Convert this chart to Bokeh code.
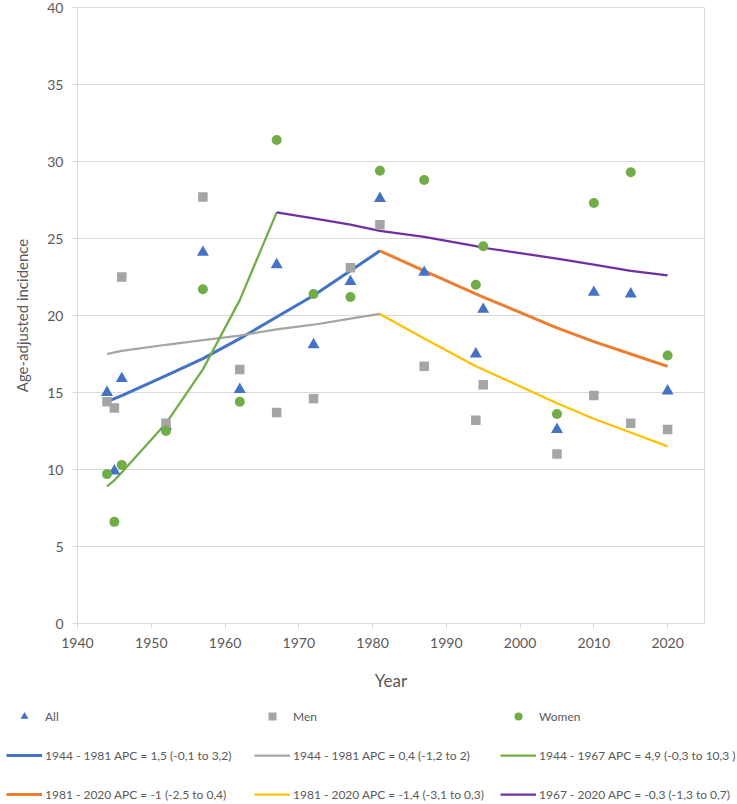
from bokeh.plotting import figure
from bokeh.layouts import column
from bokeh.models import Range1d, FixedTicker, Legend, LegendItem
from bokeh.embed import file_html
from bokeh.resources import INLINE

# ---- data ----
years = [1944, 1945, 1946, 1952, 1957, 1962, 1967, 1972, 1977, 1981,
         1987, 1994, 1995, 2005, 2010, 2015, 2020]
all_vals = [15.0, 9.9, 15.9, 12.8, 24.1, 15.2, 23.3, 18.1, 22.2, 27.6,
            22.8, 17.5, 20.4, 12.6, 21.5, 21.4, 15.1]
men_vals = [14.4, 14.0, 22.5, 13.0, 27.7, 16.5, 13.7, 14.6, 23.1, 25.9,
            16.7, 13.2, 15.5, 11.0, 14.8, 13.0, 12.6]
women_vals = [9.7, 6.6, 10.3, 12.5, 21.7, 14.4, 31.4, 21.4, 21.2, 29.4,
              28.8, 22.0, 24.5, 13.6, 27.3, 29.3, 17.4]

seg1_years = [1944, 1945, 1946, 1952, 1957, 1962, 1967, 1972, 1977, 1981]
all_fit1 = [14.4, 14.6, 14.8, 16.1, 17.2, 18.5, 19.9, 21.3, 22.9, 24.2]
men_fit1 = [17.5, 17.6, 17.7, 18.1, 18.4, 18.7, 19.1, 19.4, 19.8, 20.1]

women1_years = [1944, 1945, 1946, 1952, 1957, 1962, 1967]
women_fit1 = [8.9, 9.3, 9.8, 13.0, 16.5, 21.0, 26.7]

seg2_years = [1981, 1987, 1994, 1995, 2005, 2010, 2015, 2020]
all_fit2 = [24.2, 22.9, 21.4, 21.2, 19.2, 18.3, 17.5, 16.7]
men_fit2 = [20.1, 18.5, 16.7, 16.5, 14.3, 13.3, 12.4, 11.5]

women2_years = [1967, 1972, 1977, 1981, 1987, 1994, 1995, 2005, 2010, 2015, 2020]
women_fit2 = [26.7, 26.3, 25.9, 25.5, 25.1, 24.5, 24.4, 23.7, 23.3, 22.9, 22.6]

x_ticks = [1940, 1950, 1960, 1970, 1980, 1990, 2000, 2010, 2020]
y_ticks = [0, 5, 10, 15, 20, 25, 30, 35, 40]

labels = {
    "all": "All",
    "men": "Men",
    "women": "Women",
    "all1": "1944 - 1981 APC = 1,5 (-0,1 to 3,2)",
    "men1": "1944 - 1981 APC = 0,4 (-1,2 to 2)",
    "women1": "1944 - 1967 APC = 4,9 (-0,3 to 10,3 )",
    "all2": "1981 - 2020 APC = -1 (-2,5 to 0,4)",
    "men2": "1981 - 2020 APC = -1,4 (-3,1 to 0,3)",
    "women2": "1967 - 2020 APC = -0,3 (-1,3 to 0,7)",
}

BLUE = "#4472C4"
GRAY = "#A5A5A5"
GREEN = "#70AD47"
ORANGE = "#ED7D31"
YELLOW = "#FFC000"
PURPLE = "#7030A0"
FONT = "Lato"
TXT = "#595959"
GRID = "#D9D9D9"


def draw_series(fig):
    """Draw all series on fig; returns renderers keyed like labels."""
    r = {}
    r["all1"] = fig.line(seg1_years, all_fit1, line_color=BLUE, line_width=3)
    r["men1"] = fig.line(seg1_years, men_fit1, line_color=GRAY, line_width=2.25)
    r["women1"] = fig.line(women1_years, women_fit1, line_color=GREEN, line_width=2.25)
    r["all2"] = fig.line(seg2_years, all_fit2, line_color=ORANGE, line_width=3)
    r["men2"] = fig.line(seg2_years, men_fit2, line_color=YELLOW, line_width=2.25)
    r["women2"] = fig.line(women2_years, women_fit2, line_color=PURPLE, line_width=2.25)
    r["all"] = fig.scatter(years, all_vals, marker="triangle", size=12,
                           fill_color=BLUE, line_color=None)
    r["men"] = fig.scatter(years, men_vals, marker="square", size=9.5,
                           fill_color=GRAY, line_color=None)
    r["women"] = fig.scatter(years, women_vals, marker="circle", size=10,
                             fill_color=GREEN, line_color=None)
    return r


# ---- main chart ----
p = figure(width=737, height=700, output_backend="svg", toolbar_location=None,
           x_range=Range1d(1940, 2025), y_range=Range1d(0, 40),
           min_border_left=77, min_border_right=33, min_border_top=7,
           min_border_bottom=77)
p.frame_align = False

p.outline_line_color = GRID
p.outline_line_width = 1
p.xgrid.visible = False
p.ygrid.grid_line_color = GRID
p.ygrid.grid_line_width = 1

p.xaxis.ticker = FixedTicker(ticks=x_ticks)
p.yaxis.ticker = FixedTicker(ticks=y_ticks)
for ax in (p.xaxis[0], p.yaxis[0]):
    ax.axis_line_color = GRID
    ax.major_tick_line_color = GRID
    ax.major_tick_in = 0
    ax.major_tick_out = 5
    ax.minor_tick_line_color = None
    ax.major_label_text_font = FONT
    ax.major_label_text_font_size = "14px"
    ax.major_label_text_color = TXT
    ax.axis_label_text_font = FONT
    ax.axis_label_text_font_style = "normal"
    ax.axis_label_text_color = TXT
    ax.major_label_standoff = 9

p.xaxis.axis_label = "Year"
p.xaxis.axis_label_text_font_size = "17px"
p.xaxis.axis_label_standoff = 19
p.yaxis.axis_label = "Age-adjusted incidence"
p.yaxis.axis_label_text_font_size = "15px"
p.yaxis.axis_label_standoff = 13

draw_series(p)

# ---- legend strip (same series, kept outside its view range) ----
lp = figure(width=737, height=104, output_backend="svg", toolbar_location=None,
            x_range=Range1d(0, 1), y_range=Range1d(0, 1),
            x_axis_type=None, y_axis_type=None,
            min_border_left=0, min_border_right=0, min_border_top=0,
            min_border_bottom=0)
lp.frame_align = False
lp.outline_line_color = None
lp.xgrid.visible = False
lp.ygrid.visible = False
rs = draw_series(lp)

legend_columns = [(["all", "all1", "all2"], 6),
                  (["men", "men1", "men2"], 254),
                  (["women", "women1", "women2"], 500)]
for keys, x0 in legend_columns:
    items = [LegendItem(label=labels[k], renderers=[rs[k]]) for k in keys]
    lg = Legend(items=items, orientation="vertical",
                location=(x0, 0), margin=0, padding=0, spacing=19,
                glyph_width=36, glyph_height=20, label_standoff=3,
                label_width=20, label_height=20,
                label_text_font=FONT, label_text_font_size="12px",
                label_text_color=TXT,
                background_fill_alpha=0, border_line_alpha=0)
    lp.add_layout(lg, "center")

layout = column(p, lp, spacing=0)
open("out.html", "w").write(file_html(layout, INLINE))
